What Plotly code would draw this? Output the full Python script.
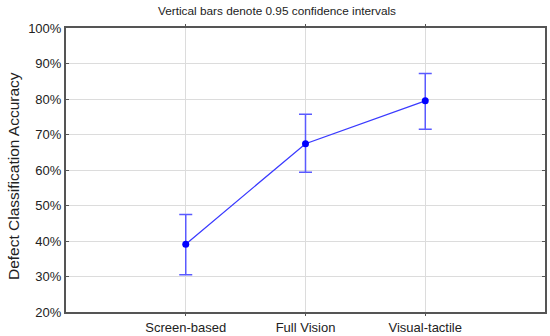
import plotly.graph_objects as go

categories = ["Screen-based", "Full Vision", "Visual-tactile"]
means = [39.1, 67.4, 79.5]
upper = [47.5, 75.7, 87.2]
lower = [30.5, 59.4, 71.5]
y_ticks = [20, 30, 40, 50, 60, 70, 80, 90, 100]
y_tick_labels = [f"{v}%" for v in y_ticks]
x_pos = [1, 2, 3]

err_plus = [u - m for u, m in zip(upper, means)]
err_minus = [m - l for m, l in zip(means, lower)]

W, H = 550, 336
L, R, T, B = 66, 5, 28, 24

fig = go.Figure()
fig.add_trace(go.Scatter(
    x=x_pos, y=means, mode="lines+markers",
    line=dict(color="#3a3aff", width=1.3),
    marker=dict(color="#0000ff", size=7),
    error_y=dict(type="data", symmetric=False, array=err_plus, arrayminus=err_minus,
                 color="#5a5aff", thickness=1.5, width=6.5),
    showlegend=False,
))

font_family = "Liberation Sans, Arial, sans-serif"
pw = W - L - R
ph = H - T - B
fig.update_layout(
    width=W, height=H,
    margin=dict(l=L, r=R, t=T, b=B, autoexpand=False),
    paper_bgcolor="white", plot_bgcolor="white",
    font=dict(family=font_family, color="#222"),
    title=dict(text="Vertical bars denote 0.95 confidence intervals",
               x=277 / W, xanchor="center", xref="container",
               y=1 - 10.6 / H, yanchor="middle", yref="container",
               font=dict(size=11.8, family=font_family, color="#222")),
    xaxis=dict(range=[0, 4], tickvals=x_pos, ticktext=categories,
               showgrid=True, gridcolor="#dcdcdc", gridwidth=1,
               showline=True, linecolor="#555", linewidth=2, mirror="ticks",
               ticks="outside", ticklen=2, tickcolor="#555",
               tickfont=dict(size=13), zeroline=False, automargin=False),
    yaxis=dict(range=[20, 100], tickvals=y_ticks, ticktext=y_tick_labels,
               showgrid=True, gridcolor="#dcdcdc", gridwidth=1,
               showline=True, linecolor="#555", linewidth=2, mirror="ticks",
               ticks="inside", ticklen=3, tickcolor="#555",
               tickfont=dict(size=13), zeroline=False, automargin=False),
    annotations=[dict(text="Defect Classification Accuracy", textangle=-90,
                      xref="paper", yref="paper",
                      x=(13 - L) / pw, y=(H - B - 176) / ph,
                      xanchor="center", yanchor="middle", showarrow=False,
                      font=dict(size=15.5, family=font_family, color="#222"))],
)

fig.write_html("out.html", config={"displayModeBar": False},
               post_script="document.body.style.margin='0';document.body.style.padding='0';")
